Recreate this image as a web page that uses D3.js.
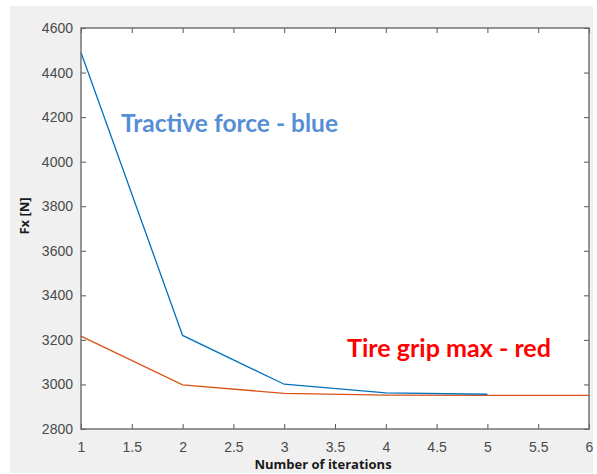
<!DOCTYPE html>
<html>
<head>
<meta charset="utf-8">
<script src="https://cdn.jsdelivr.net/npm/d3@7"></script>
<style>
  body { margin: 0; background: #fff; }
  svg { display: block; }
</style>
</head>
<body>
<div id="chart"></div>
<script>
// iterations and the two force series
var iterations = [1, 2, 3, 4, 5];
var tractiveForce = [4490, 3220, 3001, 2962, 2956];
var gripIterations = [1, 2, 3, 4, 5, 6];
var tireGripMax = [3217, 2998, 2960, 2952, 2951, 2951];

var xTicks = [1, 1.5, 2, 2.5, 3, 3.5, 4, 4.5, 5, 5.5, 6];
var yTicks = [2800, 3000, 3200, 3400, 3600, 3800, 4000, 4200, 4400, 4600];

var width = 597, height = 474;
// note: "top" is taken by window.top, so plot edges get their own names
var plotL = 81, plotR = 589, plotT = 28, plotB = 429;

var svg = d3.select("#chart")
  .append("svg")
  .attr("width", width)
  .attr("height", height);

// matlab figure grey
svg.append("rect")
  .attr("x", 10).attr("y", 6)
  .attr("width", 583).attr("height", 467)
  .style("fill", "#f0f0f0");

svg.append("rect")
  .attr("x", plotL).attr("y", plotT)
  .attr("width", plotR - plotL).attr("height", plotB - plotT)
  .style("fill", "#fff");

var x = d3.scaleLinear().domain([1, 6]).range([plotL, plotR]);
var y = d3.scaleLinear().domain([2800, 4600]).range([plotB, plotT]);

function styleAxis(g) {
  g.select(".domain").remove();
  g.selectAll("line").attr("stroke", "#555").attr("stroke-width", 1);
  g.selectAll("text")
    .style("font-family", "Liberation Sans, Arial, sans-serif")
    .style("font-size", "14px")
    .style("fill", "#4a4a4a");
}

svg.append("g")
  .attr("transform", "translate(0," + plotB + ")")
  .call(d3.axisBottom(x).tickValues(xTicks).tickFormat(d3.format("")).tickSizeInner(-5).tickSizeOuter(0).tickPadding(13))
  .call(styleAxis);

svg.append("g")
  .attr("transform", "translate(" + plotL + ",0)")
  .call(d3.axisLeft(y).tickValues(yTicks).tickFormat(d3.format("")).tickSizeInner(-5).tickSizeOuter(0).tickPadding(8))
  .call(styleAxis);

svg.append("g")
  .attr("transform", "translate(0," + plotT + ")")
  .call(d3.axisTop(x).tickValues(xTicks).tickFormat("").tickSizeInner(-5).tickSizeOuter(0))
  .call(styleAxis);

svg.append("g")
  .attr("transform", "translate(" + plotR + ",0)")
  .call(d3.axisRight(y).tickValues(yTicks).tickFormat("").tickSizeInner(-5).tickSizeOuter(0))
  .call(styleAxis);

// lines
var blueLine = d3.line()
  .x(function(d, i) { return x(iterations[i]); })
  .y(function(d) { return y(d); });

var redLine = d3.line()
  .x(function(d, i) { return x(gripIterations[i]); })
  .y(function(d) { return y(d); });

svg.append("path")
  .datum(tireGripMax)
  .attr("d", redLine)
  .style("fill", "none")
  .style("stroke", "#D95319")
  .style("stroke-width", 1.3);

svg.append("path")
  .datum(tractiveForce)
  .attr("d", blueLine)
  .style("fill", "none")
  .style("stroke", "#0072BD")
  .style("stroke-width", 1.3);

// box
svg.append("rect")
  .attr("x", plotL).attr("y", plotT)
  .attr("width", plotR - plotL).attr("height", plotB - plotT)
  .style("fill", "none")
  .style("stroke", "#6a6a6a")
  .style("stroke-width", 1.4);

// axis titles
svg.append("text")
  .attr("x", 323)
  .attr("y", 469)
  .style("text-anchor", "middle")
  .style("font-family", "Open Sans, sans-serif")
  .style("font-weight", "bold")
  .style("font-size", "13px")
  .style("fill", "#1a1a1a")
  .text("Number of iterations");

svg.append("text")
  .attr("transform", "translate(29,216) rotate(-90)")
  .style("text-anchor", "middle")
  .style("font-family", "Open Sans, sans-serif")
  .style("font-weight", "bold")
  .style("font-size", "13px")
  .style("fill", "#1a1a1a")
  .text("Fx [N]");

// annotations
svg.append("text")
  .attr("x", 121)
  .attr("y", 132)
  .attr("textLength", 217)
  .attr("lengthAdjust", "spacingAndGlyphs")
  .style("font-family", "Lato, sans-serif")
  .style("font-weight", "bold")
  .style("font-size", "25px")
  .style("fill", "#558ED5")
  .text("Tractive force - blue");

svg.append("text")
  .attr("x", 347)
  .attr("y", 357)
  .attr("textLength", 204)
  .attr("lengthAdjust", "spacingAndGlyphs")
  .style("font-family", "Lato, sans-serif")
  .style("font-weight", "bold")
  .style("font-size", "25px")
  .style("fill", "#ff0000")
  .text("Tire grip max - red");
</script>
</body>
</html>
